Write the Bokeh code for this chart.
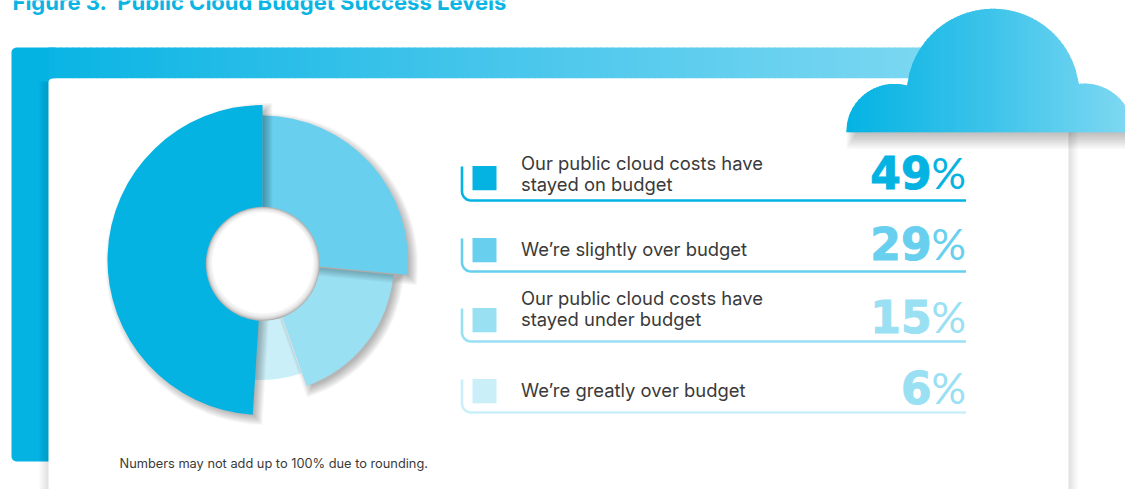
import math
from bokeh.plotting import figure
from bokeh.models import Range1d
from bokeh.core.properties import value
from bokeh.embed import file_html
from bokeh.resources import INLINE

# ---- data ----
title = "Figure 3.\u00a0 Public Cloud Budget Success Levels"
footnote = "Numbers may not add up to 100% due to rounding."
categories = [["Our public cloud costs have", "stayed on budget"],
              ["We\u2019re slightly over budget"],
              ["Our public cloud costs have", "stayed under budget"],
              ["We\u2019re greatly over budget"]]
percent_labels = [49, 29, 15, 6]
# share of the ring each slice occupies as drawn in the picture
drawn_shares = [49.0, 26.5, 18.1, 6.6]

# ---- style ----
colors = ["#05B3E3", "#68D0EE", "#9AE0F3", "#CBEFF8"]
pct_colors = ["#05B3E3", "#68D0EE", "#9AE0F3", "#9AE0F3"]
radii = [155, 145.5, 131, 116.5]
centers = [(263, 260.5), (263, 261.5), (263.5, 263), (263, 264)]
hole_c, hole_r = (263.3, 264.3), 57
swatch_top = [166.5, 238.5, 308.5, 379.5]
line_y = [201, 272, 342, 413]
text_y = [[163, 184], [249], [298, 319], [390]]
pct_mid = [172.5, 243.5, 316.5, 387.5]
FONT = "Inter"


def mix(stops, t):
    t = max(0, min(1, t))
    n = len(stops) - 1
    i = min(int(t * n), n - 1)
    f = t * n - i
    a, b = stops[i], stops[i + 1]
    return "#%02x%02x%02x" % tuple(round(a[j] + (b[j] - a[j]) * f) for j in range(3))


p = figure(width=1125, height=489, x_range=Range1d(1, 1126), y_range=Range1d(490, 1),
           output_backend="svg", toolbar_location=None, min_border=0,
           x_axis_location=None, y_axis_location=None,
           outline_line_color=None, background_fill_color="white", border_fill_color="white")
p.grid.visible = False


def rrect(x0, y0, x1, y1, r, corners="tl tr br bl"):
    xs, ys = [], []
    arcs = {"tl": (x0 + r, y0 + r, 180), "tr": (x1 - r, y0 + r, 270),
            "br": (x1 - r, y1 - r, 0), "bl": (x0 + r, y1 - r, 90)}
    fallback = {"tl": (x0, y0), "tr": (x1, y0), "br": (x1, y1), "bl": (x0, y1)}
    for c in ("tl", "tr", "br", "bl"):
        if c in corners.split():
            cx, cy, a = arcs[c]
            for k in range(7):
                t = math.radians(a + 15 * k)
                xs.append(cx + r * math.cos(t))
                ys.append(cy + r * math.sin(t))
        else:
            xs.append(fallback[c][0])
            ys.append(fallback[c][1])
    return xs, ys


# title
p.text([13], [2], text=[title], text_font=value(FONT), text_font_style="bold",
       text_font_size="22px", text_color="#0AB4E3", text_baseline="middle")

# blue panel
xs, ys = rrect(12, 48, 55, 462, 5, "tl bl")
p.patch(xs, ys, fill_color="#05B3E3", line_color=None)
stops = [(5, 179, 227), (69, 197, 235), (125, 216, 242)]
step = 6
gx = list(range(49, 950, step))
p.quad(left=gx, right=[g + step + 1 for g in gx], top=[48] * len(gx), bottom=[79] * len(gx),
       fill_color=[mix(stops, (g - 12) / 930) for g in gx], line_color=None)

# white card and its shadow
for k in range(1, 11):
    p.quad(left=[49 - k], right=[1069 + k], top=[82], bottom=[495], fill_color="#000000",
           fill_alpha=0.012, line_color=None)
xs, ys = rrect(49, 79, 1069, 495, 4)
p.patch(xs, ys, fill_color="white", line_color=None)


# ---- donut ----
def angle_bounds(shares):
    # first slice runs anticlockwise from the top, the rest clockwise from the top
    out = [(math.pi / 2, math.pi / 2 + shares[0] / 100 * 2 * math.pi)]
    a = math.pi / 2
    for s in shares[1:]:
        b = a - s / 100 * 2 * math.pi
        out.append((b, a))
        a = b
    return out


def shadow(c, r, a0, a1, alpha=0.032, dx=4, dy=4):
    for k in range(-3, 7):
        n0 = (math.sin(a0), math.cos(a0))      # screen-space outward normal at a0
        n1 = (-math.sin(a1), -math.cos(a1))    # outward normal at a1
        u0 = (math.cos(a0), -math.sin(a0))
        u1 = (math.cos(a1), -math.sin(a1))
        cx, cy = c[0] + dx, c[1] + dy
        R = r + k
        xs = [cx + n0[0] * k, cx + n0[0] * k + u0[0] * R]
        ys = [cy + n0[1] * k, cy + n0[1] * k + u0[1] * R]
        m = 60
        for i in range(m + 1):
            t = a0 + (a1 - a0) * i / m
            xs.append(cx + R * math.cos(t))
            ys.append(cy - R * math.sin(t))
        xs += [cx + n1[0] * k + u1[0] * R, cx + n1[0] * k]
        ys += [cy + n1[1] * k + u1[1] * R, cy + n1[1] * k]
        p.patch(xs, ys, fill_color="#000000", fill_alpha=alpha, line_color=None)


bounds = angle_bounds(drawn_shares)
for i in [3, 2, 1, 0]:
    c, r = centers[i], radii[i]
    a0, a1 = bounds[i]
    if i != 3:
        shadow(c, r, a0, a1)
    p.wedge(x=[c[0]], y=[c[1]], radius=[r], start_angle=[a0], end_angle=[a1],
            fill_color=colors[i], line_color=None)

# hole with inner shadow: grey rim fading to white towards the middle
p.circle(x=[hole_c[0]], y=[hole_c[1]], radius=[hole_r], fill_color="#b0b0b0", line_color=None)
for k in range(1, 9):
    p.circle(x=[hole_c[0]], y=[hole_c[1] - k * 0.12], radius=[hole_r - k * 0.8],
             fill_color="white", fill_alpha=0.28 if k < 8 else 1.0, line_color=None)

# ---- legend rows ----
for i, label in enumerate(categories):
    yl = line_y[i]
    ytop = swatch_top[i] + 0.5
    r = 9
    xs = [462.5, 462.5]
    ys = [ytop, yl - r]
    for j in range(1, 9):
        t = math.radians(90 * j / 8)
        xs.append(462.5 + r - r * math.cos(t))
        ys.append(yl - r + r * math.sin(t))
    xs.append(966.5)
    ys.append(yl)
    p.line(xs, ys, line_color=colors[i], line_width=2.6)
    p.quad(left=[473], right=[497], top=[swatch_top[i]], bottom=[swatch_top[i] + 24.3],
           fill_color=colors[i], line_color=None)
    p.text([521.5] * len(label), text_y[i], text=label, text_font=value(FONT),
           text_font_size="18.4px", text_color="#3a3a3a", text_baseline="middle")
    p.text([932], [pct_mid[i]], text=[str(percent_labels[i])], text_font=value("DejaVu Sans"),
           text_font_style="bold", text_font_size="44px", text_color=pct_colors[i],
           text_outline_color=pct_colors[i], text_align="right", text_baseline="middle")
    p.text([932], [pct_mid[i]], text=["%"], text_font=value("Lato"),
           text_font_size="43px", text_color=pct_colors[i],
           text_align="left", text_baseline="middle")

p.text([120], [464], text=[footnote], text_font=value(FONT), text_font_size="12.8px",
       text_color="#3a3a3a", text_baseline="middle")

# ---- cloud ----
domes = [(895, 132.7, 48.3), (993.5, 95.6, 86.3), (1085, 132.7, 48.6)]


def cloud_top(x):
    best = 132.7
    for cx, cy, r in domes:
        if abs(x - cx) < r:
            best = min(best, cy - math.sqrt(r * r - (x - cx) ** 2))
    return best


# shadow under the cloud
for k in range(1, 12):
    p.quad(left=[858 - k], right=[1130], top=[130], bottom=[133 + k * 1.5], fill_color="#000000",
           fill_alpha=0.022, line_color=None)

cstops = [(5, 179, 227), (60, 195, 234), (125, 216, 242)]
x = 846.7
strip = 3
while x < 1126:
    x1 = min(x + strip + 1.5, 1127)
    col = mix(cstops, (x - 847) / 278)
    samples = [x + (x1 - x) * s / 5 for s in range(6)]
    tops = [cloud_top(s) for s in samples]
    p.patch(samples + [x1, x], tops + [132.7, 132.7], fill_color=col, line_color=None)
    x += strip

open("out.html", "w").write(file_html(p, INLINE))
